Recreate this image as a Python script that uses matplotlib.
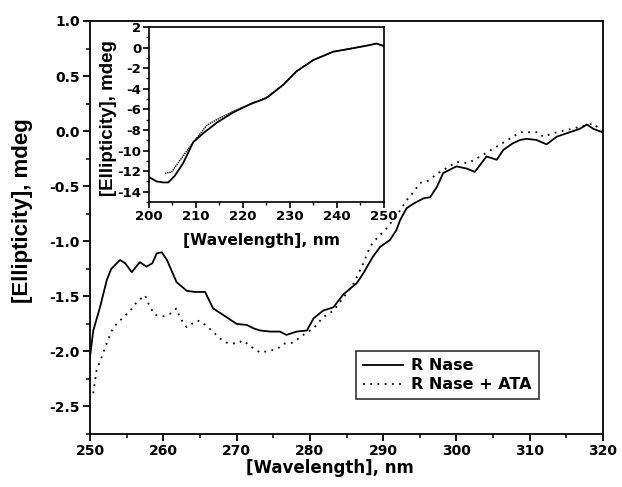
import matplotlib
matplotlib.use("Agg")
import matplotlib.pyplot as plt
from matplotlib.ticker import MultipleLocator

plt.rcParams['font.family'] = ['DejaVu Sans']
plt.rcParams['font.weight'] = 'bold'
plt.rcParams['axes.unicode_minus'] = False

# Main panel: R Nase (solid)
wl_rnase = [250.0, 250.45, 251.36, 252.3, 252.9, 254.1, 254.8, 255.7, 256.8, 257.7, 258.5, 259.1,
            259.8, 260.5, 261.8, 263.2, 264.3, 265.7, 266.8, 268.2, 270.0, 271.4, 272.3, 273.2,
            274.6, 275.9, 276.8, 278.2, 279.6, 280.5, 281.8, 283.2, 284.6, 285.5, 286.4, 287.3,
            288.6, 289.6, 290.9, 291.8, 292.3, 293.2, 294.1, 295.5, 296.4, 297.3, 298.2, 300.0,
            301.4, 302.5, 304.1, 305.5, 306.4, 307.7, 308.7, 309.6, 310.9, 312.3, 313.7, 315.0,
            316.8, 317.8, 318.7, 319.9]
ell_rnase = [-2.05, -1.81, -1.60, -1.35, -1.25, -1.17, -1.20, -1.28, -1.19, -1.23, -1.20, -1.11,
             -1.10, -1.17, -1.37, -1.45, -1.46, -1.46, -1.61, -1.67, -1.75, -1.76, -1.79, -1.81,
             -1.82, -1.82, -1.85, -1.82, -1.81, -1.70, -1.63, -1.60, -1.48, -1.43, -1.38, -1.29,
             -1.14, -1.05, -0.99, -0.90, -0.81, -0.70, -0.66, -0.61, -0.60, -0.51, -0.38, -0.32,
             -0.34, -0.37, -0.23, -0.26, -0.17, -0.11, -0.08, -0.07, -0.08, -0.12, -0.05, -0.02,
             0.02, 0.06, 0.02, -0.01]

# Main panel: R Nase + ATA (dotted)
wl_ata = [250.45, 250.9, 251.6, 252.3, 253.2, 254.4, 255.5, 256.4, 257.5, 258.2, 258.9, 260.0,
          260.9, 261.8, 262.3, 263.2, 264.6, 265.2, 266.6, 267.7, 268.6, 270.0, 270.9, 271.8,
          273.2, 274.1, 275.5, 276.4, 277.7, 279.1, 280.5, 281.8, 283.2, 284.6, 286.0, 287.3,
          288.2, 288.9, 290.5, 292.0, 293.3, 294.3, 295.0, 296.2, 297.5, 298.8, 300.0, 301.6,
          303.5, 305.5, 307.0, 308.7, 309.8, 311.2, 311.8, 313.7, 315.7, 317.5, 318.7, 319.9]
ell_ata = [-2.38, -2.17, -2.05, -1.92, -1.78, -1.70, -1.63, -1.55, -1.49, -1.60, -1.67, -1.68,
           -1.66, -1.61, -1.70, -1.78, -1.72, -1.73, -1.81, -1.88, -1.92, -1.93, -1.90, -1.95,
           -2.01, -2.00, -1.98, -1.93, -1.92, -1.85, -1.79, -1.69, -1.63, -1.51, -1.38, -1.20,
           -1.05, -0.99, -0.88, -0.75, -0.62, -0.54, -0.47, -0.45, -0.38, -0.33, -0.28, -0.29,
           -0.22, -0.14, -0.08, -0.01, -0.01, -0.01, -0.05, -0.01, 0.02, 0.05, 0.07, -0.01]

# Inset: far-UV
wl_in_rnase = [200.1, 201.6, 203.0, 204.1, 205.5, 207.3, 209.4, 211.6, 214.4, 217.9, 221.5, 225.0,
               228.6, 231.4, 235.0, 239.2, 243.5, 247.0, 248.4, 250.0]
ell_in_rnase = [-12.6, -13.0, -13.1, -13.1, -12.45, -11.2, -9.2, -8.3, -7.3, -6.3, -5.5, -4.9,
                -3.6, -2.3, -1.2, -0.4, -0.05, 0.25, 0.4, 0.15]
wl_in_ata = [203.4, 204.8, 207.3, 209.4, 210.5, 212.3, 214.4, 217.9, 221.5, 225.0, 228.6, 231.4,
             235.0, 239.2, 243.5, 247.0, 248.4, 250.0]
ell_in_ata = [-12.2, -12.1, -10.5, -9.2, -8.6, -7.55, -7.0, -6.2, -5.5, -4.85, -3.6, -2.3,
              -1.2, -0.4, -0.05, 0.25, 0.4, 0.15]

fig = plt.figure(figsize=(6.22, 4.87), dpi=100)
ax = fig.add_axes([0.1447, 0.1088, 0.8248, 0.8481])

ax.plot(wl_rnase, ell_rnase, color='black', lw=1.3, label='R Nase')
ax.plot(wl_ata, ell_ata, color='black', lw=1.3, linestyle=(0, (1, 3)), label='R Nase + ATA')

ax.set_xlim(250, 320)
ax.set_ylim(-2.75, 1.0)
ax.xaxis.set_major_locator(MultipleLocator(10))
ax.xaxis.set_minor_locator(MultipleLocator(5))
ax.yaxis.set_major_locator(MultipleLocator(0.5))
ax.yaxis.set_minor_locator(MultipleLocator(0.25))
ax.tick_params(which='major', direction='out', length=5, width=1.3, labelsize=10,
               top=False, right=False, pad=2.5)
ax.tick_params(which='minor', direction='out', length=3, width=1.1, top=False, right=False)
for s in ax.spines.values():
    s.set_linewidth(1.3)
ax.set_xlabel('[Wavelength], nm', fontsize=12, fontweight='bold', va='top')
ax.xaxis.set_label_coords(0.468, -0.060)
ax.set_ylabel('[Ellipticity], mdeg', fontsize=16, fontweight='bold',
              family=['Liberation Sans', 'DejaVu Sans'])
ax.yaxis.set_label_coords(-0.111, 0.54)
for lab in ax.get_xticklabels() + ax.get_yticklabels():
    lab.set_fontweight('bold')

leg = ax.legend(loc='upper left', bbox_to_anchor=(0.518, 0.201), borderaxespad=0,
                fontsize=11.5, frameon=True, fancybox=False, edgecolor='black',
                handlelength=2.5, handletextpad=0.5, borderpad=0.45, labelspacing=0.25)
leg.get_frame().set_linewidth(1.2)
for t in leg.get_texts():
    t.set_fontweight('bold')

ins = fig.add_axes([0.2395, 0.5852, 0.3778, 0.3593])
ins.plot(wl_in_rnase, ell_in_rnase, color='black', lw=1.3)
ins.plot(wl_in_ata, ell_in_ata, color='black', lw=1.0, linestyle=(0, (1, 0.6)))
ins.set_xlim(200, 250)
ins.set_ylim(-15, 2)
ins.xaxis.set_major_locator(MultipleLocator(10))
ins.xaxis.set_minor_locator(MultipleLocator(5))
ins.yaxis.set_major_locator(MultipleLocator(2))
ins.yaxis.set_minor_locator(MultipleLocator(1))
ins.tick_params(which='major', direction='out', length=4, width=1.2, labelsize=9.5,
                pad=1.5, top=False, right=False)
ins.tick_params(which='minor', direction='out', length=2.5, width=1.0, top=False, right=False)
for s in ins.spines.values():
    s.set_linewidth(1.2)
ins.set_xlabel('[Wavelength], nm', fontsize=11.2, fontweight='bold', va='top')
ins.xaxis.set_label_coords(0.477, -0.177)
ins.set_ylabel('[Ellipticity], mdeg', fontsize=13.5, fontweight='bold',
               family=['Liberation Sans', 'DejaVu Sans'])
ins.yaxis.set_label_coords(-0.136, 0.48)
for lab in ins.get_xticklabels() + ins.get_yticklabels():
    lab.set_fontweight('bold')

fig.savefig('out.png', dpi=100)
